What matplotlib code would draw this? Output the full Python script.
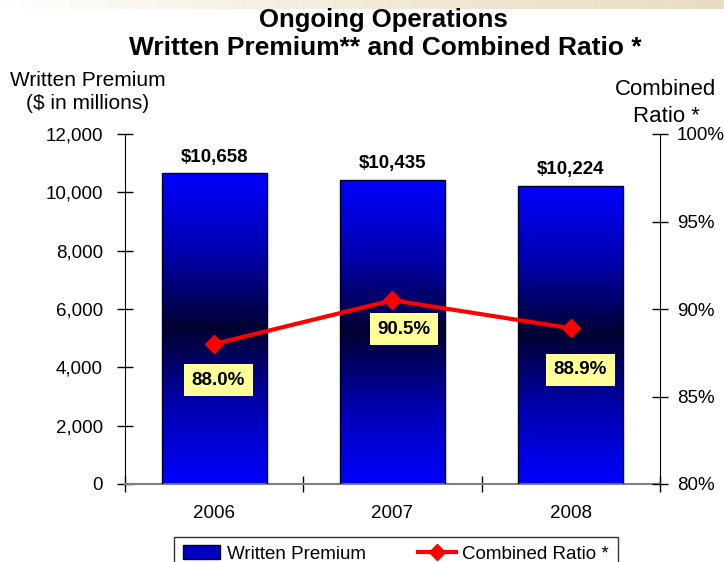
import numpy as np
import matplotlib.pyplot as plt
from matplotlib.colors import LinearSegmentedColormap
from matplotlib.lines import Line2D
from matplotlib.patches import Rectangle
from matplotlib.ticker import FuncFormatter, PercentFormatter

plt.rcParams['font.family'] = ['Liberation Sans', 'DejaVu Sans']

years = ['2006', '2007', '2008']
premium = [10658, 10435, 10224]          # $ millions
combined_ratio = [88.0, 90.5, 88.9]      # percent

# where each ratio box sits relative to its marker (points)
label_offsets = [(3, -26), (8, -21), (7, -30)]

fig = plt.figure(figsize=(7.24, 5.62), dpi=100)

# faint beige band across the top
band = fig.add_axes([0, 1 - 9 / 562, 1, 9 / 562])
band.imshow(np.linspace(0, 1, 256)[None, :], aspect='auto',
            cmap=LinearSegmentedColormap.from_list('band', ['#ffffff', '#f3ead8', '#e9dcc2']),
            extent=(0, 1, 0, 1))
band.axis('off')

ax = fig.add_axes([125 / 724, 78 / 562, 535 / 724, 350 / 562])
x = np.arange(len(years))

bar_cmap = LinearSegmentedColormap.from_list(
    'bar', ['#0000ff', '#0000b0', '#000030', '#0000b0', '#0000ff'])
bars = ax.bar(x, premium, width=0.59, facecolor='none', edgecolor='#000022',
              linewidth=1.0, zorder=3)
grad = np.linspace(0, 1, 256)[:, None]
for b in bars:
    im = ax.imshow(grad, aspect='auto', cmap=bar_cmap, zorder=2,
                   extent=(b.get_x(), b.get_x() + b.get_width(), 0, b.get_height()),
                   origin='lower')
    im.set_clip_path(b)

for xi, v in zip(x, premium):
    ax.text(xi, v + 260, '${:,}'.format(v), ha='center', va='bottom',
            fontsize=13.5, fontweight='bold')

ax.set_xlim(-0.5, 2.5)
ax.set_ylim(0, 12000)
ax.set_yticks(np.arange(0, 12001, 2000))
ax.yaxis.set_major_formatter(FuncFormatter(lambda v, p: '{:,.0f}'.format(v)))
ax.set_xticks(x)
ax.set_xticklabels(years)
ax.set_xticks([-0.5, 0.5, 1.5, 2.5], minor=True)
ax.tick_params(axis='x', which='major', length=0, pad=15, labelsize=13.5)
ax.tick_params(axis='x', which='minor', direction='inout', length=12, width=1)
ax.tick_params(axis='y', direction='inout', length=12, width=1, labelsize=13.5, pad=10)
ax.spines['top'].set_visible(False)
ax.spines['right'].set_visible(False)
ax.spines['bottom'].set_color('#808080')
ax.spines['bottom'].set_linewidth(1.5)

ax2 = ax.twinx()
ax2.plot(x, combined_ratio, color='#ff0000', linewidth=3, marker='D',
         markersize=9, zorder=5)
for xi, v, off in zip(x, combined_ratio, label_offsets):
    ax2.annotate('{:.1f}%'.format(v), (xi, v), xytext=off,
                 textcoords='offset points', ha='center', va='center',
                 fontsize=13.5, fontweight='bold', zorder=6,
                 bbox=dict(boxstyle='square,pad=0.4', facecolor='#ffff99',
                           edgecolor='none'))
ax2.set_ylim(80, 100)
ax2.set_yticks(np.arange(80, 101, 5))
ax2.yaxis.set_major_formatter(PercentFormatter(decimals=0))
ax2.tick_params(axis='y', direction='inout', length=12, width=1, labelsize=13.5, pad=6)
for s in ['top', 'left', 'bottom']:
    ax2.spines[s].set_visible(False)

fig.text(383 / 724, 1 - 20 / 562, 'Ongoing Operations', ha='center', va='center',
         fontsize=18.5, fontweight='bold')
fig.text(385 / 724, 1 - 48 / 562, 'Written Premium** and Combined Ratio *',
         ha='center', va='center', fontsize=19, fontweight='bold')
fig.text(88 / 724, 1 - 92 / 562, 'Written Premium\n($ in millions)', ha='center',
         va='center', fontsize=15, linespacing=1.25)
fig.text(666 / 724, 1 - 103 / 562, 'Combined\nRatio *', ha='center', va='center',
         fontsize=16, linespacing=1.35)

handles = [Rectangle((0, 0), 1, 1, facecolor='#0000c0', edgecolor='#000022'),
           Line2D([], [], color='#ff0000', linewidth=3, marker='D', markersize=8)]
leg = fig.legend(handles, ['Written Premium', 'Combined Ratio *'], ncol=2,
                 loc='upper center', bbox_to_anchor=(396 / 724, 1 - 537 / 562),
                 borderaxespad=0, fontsize=13.5, frameon=True, fancybox=False,
                 edgecolor='black', columnspacing=2.8, handlelength=2.0,
                 handletextpad=0.35, borderpad=0.45)
leg.get_frame().set_linewidth(1.0)

fig.savefig('out.png', dpi=100)
